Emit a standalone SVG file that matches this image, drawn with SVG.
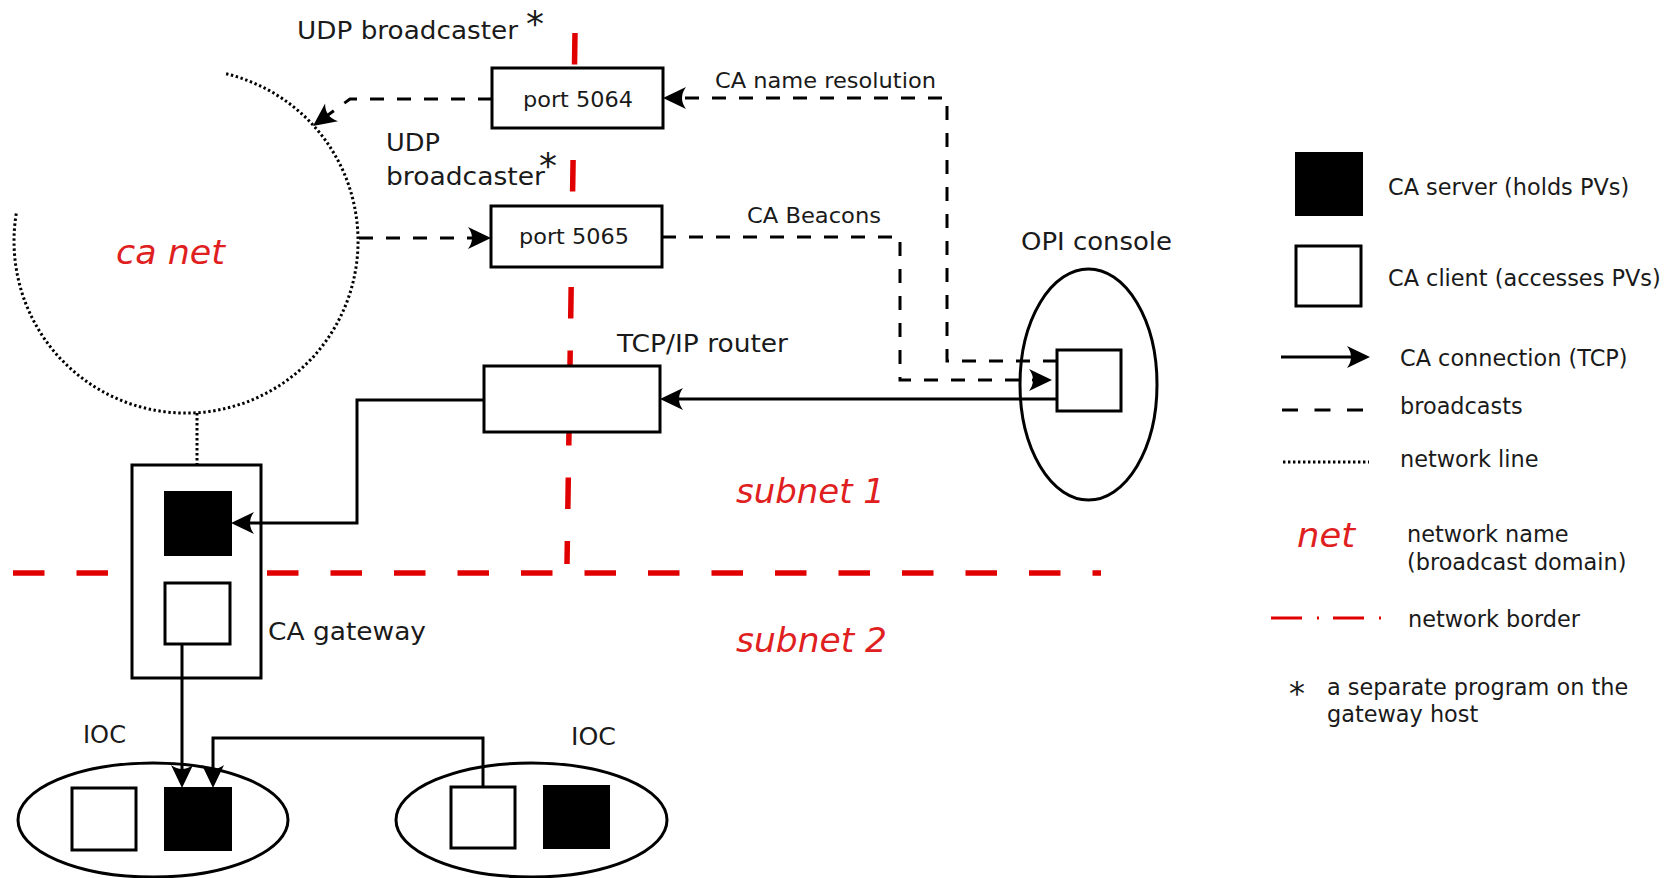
<svg xmlns="http://www.w3.org/2000/svg" width="1669" height="878" viewBox="0 0 1669 878">
<style>
text{font-family:"DejaVu Sans","Liberation Sans",sans-serif;fill:#1a1a1a}
.lbl{font-size:24px}
.sm{font-size:22px}
.leg{font-size:22.4px}
.red{font-family:"DejaVu Sans","Liberation Sans",sans-serif;font-style:italic;font-size:33px;fill:#e02020}
.box{fill:#fff;stroke:#000;stroke-width:3}
.srv{fill:#000;stroke:#000;stroke-width:2}
.cli{fill:#fff;stroke:#000;stroke-width:3}
.ell{fill:#fff;stroke:#000;stroke-width:3}
.tcp{fill:none;stroke:#000;stroke-width:3}
.bc{fill:none;stroke:#000;stroke-width:3;stroke-dasharray:14 13}
.dot{fill:none;stroke:#000;stroke-width:3;stroke-dasharray:2.4 2.6}
.border{fill:none;stroke:#e00000;stroke-width:5.5;stroke-dasharray:31.5 32}
</style>
<defs>
<marker id="ah" viewBox="-26 -13 28 26" refX="-4" refY="0" markerWidth="28" markerHeight="26" markerUnits="userSpaceOnUse" orient="auto">
<path d="M0,0 L-23,-11 Q-15,0 -23,11 Z" fill="#000"/>
</marker>
</defs>
<rect width="1669" height="878" fill="#fff"/>

<g id="network-borders">
<path class="border" d="M13,573 H1101"/>
<path class="border" d="M575,33 L567,564"/>
</g>

<g id="ca-net">
<path class="dot" d="M226.1,73.8 A172,172 0 1 1 16.5,212"/>
<path class="dot" d="M197,413 V492"/>
<text class="red" x="116" y="264" textLength="109" lengthAdjust="spacingAndGlyphs">ca net</text>
</g>

<g id="udp-broadcaster-1">
<text class="lbl" x="297" y="39" textLength="221" lengthAdjust="spacingAndGlyphs">UDP broadcaster</text>
<text x="526" y="36" style="font-size:36px">*</text>
</g>

<g id="udp-broadcaster-2">
<text class="lbl" x="386" y="151" textLength="54" lengthAdjust="spacingAndGlyphs">UDP</text>
<text class="lbl" x="386" y="185" textLength="159" lengthAdjust="spacingAndGlyphs">broadcaster</text>
<text x="539" y="178" style="font-size:36px">*</text>
</g>

<g id="port5064">
<rect class="box" x="492" y="68" width="171" height="60"/>
<text class="sm" x="523" y="107" textLength="110" lengthAdjust="spacingAndGlyphs">port 5064</text>
</g>

<g id="port5065">
<rect class="box" x="491" y="206" width="171" height="61"/>
<text class="sm" x="519" y="244" textLength="110" lengthAdjust="spacingAndGlyphs">port 5065</text>
</g>

<g id="router">
<rect class="box" x="484" y="366" width="176" height="66"/>
<text class="lbl" x="617" y="352" textLength="171" lengthAdjust="spacingAndGlyphs">TCP/IP router</text>
</g>

<g id="opi-console">
<ellipse class="ell" cx="1088.5" cy="384.5" rx="68.5" ry="115.5"/>
<rect class="cli" x="1057" y="350" width="64" height="61"/>
<text class="lbl" x="1021" y="250" textLength="151" lengthAdjust="spacingAndGlyphs">OPI console</text>
</g>

<g id="ca-gateway">
<rect class="box" x="132" y="465" width="129" height="213"/>
<rect class="srv" x="165" y="492" width="66" height="63"/>
<rect class="cli" x="165" y="583" width="65" height="61"/>
<text class="lbl" x="268" y="640" textLength="158" lengthAdjust="spacingAndGlyphs">CA gateway</text>
</g>

<g id="ioc-left">
<ellipse class="ell" cx="153" cy="820" rx="135" ry="57"/>
<rect class="cli" x="72" y="788" width="64" height="62"/>
<rect class="srv" x="165" y="788" width="66" height="62"/>
<text class="lbl" x="83" y="743" textLength="43" lengthAdjust="spacingAndGlyphs">IOC</text>
</g>

<g id="ioc-right">
<ellipse class="ell" cx="531.5" cy="820" rx="135.5" ry="57"/>
<rect class="cli" x="451" y="787" width="64" height="61"/>
<rect class="srv" x="544" y="786" width="65" height="62"/>
<text class="lbl" x="571" y="745" textLength="45" lengthAdjust="spacingAndGlyphs">IOC</text>
</g>

<g id="subnets">
<text class="red" x="736" y="503" textLength="149" lengthAdjust="spacingAndGlyphs">subnet 1</text>
<text class="red" x="736" y="652" textLength="151" lengthAdjust="spacingAndGlyphs">subnet 2</text>
</g>

<g id="connectors">
<path class="bc" d="M1057,361 H947 V98 H667" marker-end="url(#ah)"/>
<text class="sm" x="715" y="88" textLength="221" lengthAdjust="spacingAndGlyphs">CA name resolution</text>
<path class="bc" d="M662,237 H900 V380 H1048" marker-end="url(#ah)"/>
<text class="sm" x="747" y="223" textLength="134" lengthAdjust="spacingAndGlyphs">CA Beacons</text>
<path class="bc" d="M492,99 H350 L316.2,123.6" marker-end="url(#ah)"/>
<path class="bc" d="M359,238 H487" marker-end="url(#ah)"/>
<path class="tcp" d="M1057,399 H664" marker-end="url(#ah)"/>
<path class="tcp" d="M484,400 H357 V523 H235" marker-end="url(#ah)"/>
<path class="tcp" d="M182,644 V784" marker-end="url(#ah)"/>
<path class="tcp" d="M483,787 V738 H213 V784" marker-end="url(#ah)"/>
</g>

<g id="legend">
<rect class="srv" x="1296" y="153" width="66" height="62"/>
<text class="leg" x="1388" y="195">CA server (holds PVs)</text>
<rect class="cli" x="1296" y="246" width="65" height="60"/>
<text class="leg" x="1388" y="286">CA client (accesses PVs)</text>
<path class="tcp" d="M1281,357 H1366" marker-end="url(#ah)"/>
<text class="leg" x="1400" y="366">CA connection (TCP)</text>
<path d="M1282,410 H1364" fill="none" stroke="#000" stroke-width="3" stroke-dasharray="16 16.5"/>
<text class="leg" x="1400" y="414">broadcasts</text>
<path class="dot" d="M1283,462 H1369"/>
<text class="leg" x="1400" y="467">network line</text>
<text class="red" x="1297" y="547" textLength="58" lengthAdjust="spacingAndGlyphs">net</text>
<text class="leg" x="1407" y="542">network name</text>
<text class="leg" x="1407" y="570">(broadcast domain)</text>
<path d="M1271,618 H1384" fill="none" stroke="#e00000" stroke-width="3" stroke-dasharray="31 15 2 14"/>
<text class="leg" x="1408" y="627">network border</text>
<text x="1289" y="704" style="font-size:32px">*</text>
<text class="leg" x="1327" y="695">a separate program on the</text>
<text class="leg" x="1327" y="722">gateway host</text>
</g>
</svg>
